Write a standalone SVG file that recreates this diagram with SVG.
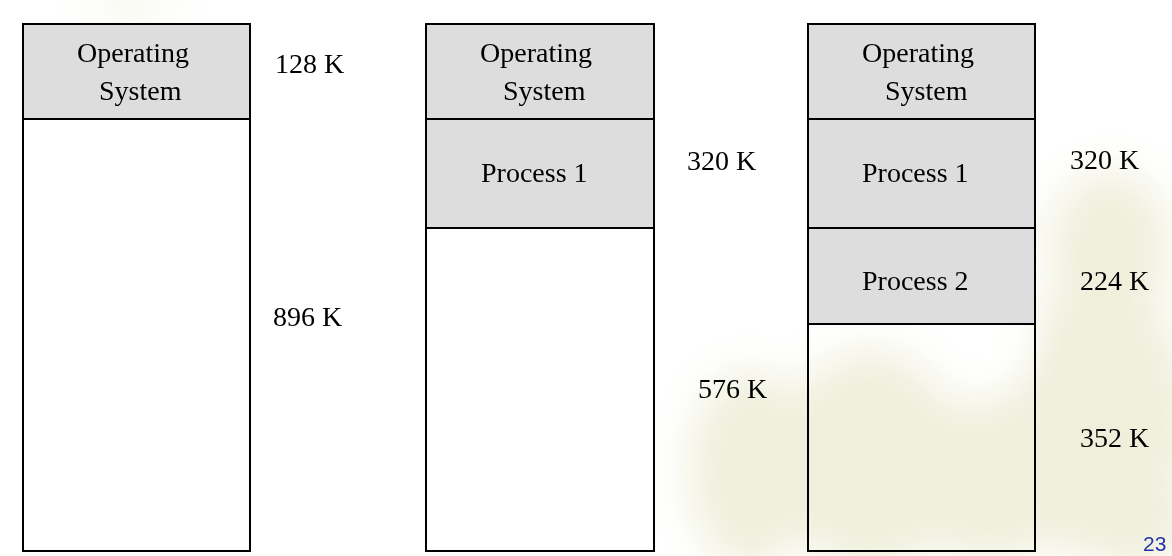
<svg xmlns="http://www.w3.org/2000/svg" width="1172" height="556" viewBox="0 0 1172 556">
  <defs>
    <filter id="blur" x="-50%" y="-50%" width="200%" height="200%">
      <feGaussianBlur stdDeviation="22"/>
    </filter>
    <style>
      .box { stroke: #000; stroke-width: 2; }
      .os { fill: #dddddd; }
      .proc { fill: #dddddd; }
      .free { fill: #ffffff; }
      .free3 { fill: none; }
      .t { font-family: "Liberation Serif", "Times New Roman", serif; font-size: 28px; fill: #000; }
      .pg { font-family: "Liberation Sans", Arial, sans-serif; font-size: 21px; fill: #2233aa; }
    </style>
  </defs>

  <rect width="1172" height="556" fill="#ffffff"/>

  <g id="background" filter="url(#blur)" fill="#dcdcb0" opacity="0.45">
    <ellipse cx="130" cy="6" rx="50" ry="14" opacity="0.6"/>
    <ellipse cx="750" cy="470" rx="60" ry="100"/>
    <ellipse cx="870" cy="460" rx="90" ry="110"/>
    <ellipse cx="990" cy="480" rx="90" ry="80"/>
    <ellipse cx="1100" cy="420" rx="90" ry="140"/>
    <ellipse cx="1110" cy="250" rx="60" ry="80"/>
    <ellipse cx="960" cy="225" rx="60" ry="45" opacity="0.5"/>
    <ellipse cx="1140" cy="520" rx="50" ry="50"/>
  </g>
  <g id="bg-highlight" filter="url(#blur)" fill="#ffffff">
    <ellipse cx="1000" cy="345" rx="35" ry="28"/>
  </g>

  <g id="col1">
    <rect class="box os" x="23" y="24" width="227" height="95"/>
    <rect class="box free" x="23" y="119" width="227" height="432"/>
    <text class="t" x="77" y="62">Operating</text>
    <text class="t" x="99" y="100">System</text>
  </g>
  <g id="col1-labels">
    <text class="t" x="275" y="73">128 K</text>
    <text class="t" x="273" y="326">896 K</text>
  </g>

  <g id="col2">
    <rect class="box os" x="426" y="24" width="228" height="95"/>
    <rect class="box proc" x="426" y="119" width="228" height="109"/>
    <rect class="box free" x="426" y="228" width="228" height="323"/>
    <text class="t" x="480" y="62">Operating</text>
    <text class="t" x="503" y="100">System</text>
    <text class="t" x="481" y="182">Process 1</text>
  </g>
  <g id="col2-labels">
    <text class="t" x="687" y="170">320 K</text>
    <text class="t" x="698" y="398">576 K</text>
  </g>

  <g id="col3">
    <rect class="box os" x="808" y="24" width="227" height="95"/>
    <rect class="box proc" x="808" y="119" width="227" height="109"/>
    <rect class="box proc" x="808" y="228" width="227" height="96"/>
    <rect class="box free3" x="808" y="324" width="227" height="227"/>
    <text class="t" x="862" y="62">Operating</text>
    <text class="t" x="885" y="100">System</text>
    <text class="t" x="862" y="182">Process 1</text>
    <text class="t" x="862" y="290">Process 2</text>
  </g>
  <g id="col3-labels">
    <text class="t" x="1070" y="169">320 K</text>
    <text class="t" x="1080" y="290">224 K</text>
    <text class="t" x="1080" y="447">352 K</text>
  </g>

  <g id="connectors"></g>

  <text class="pg" x="1143" y="551">23</text>
</svg>
